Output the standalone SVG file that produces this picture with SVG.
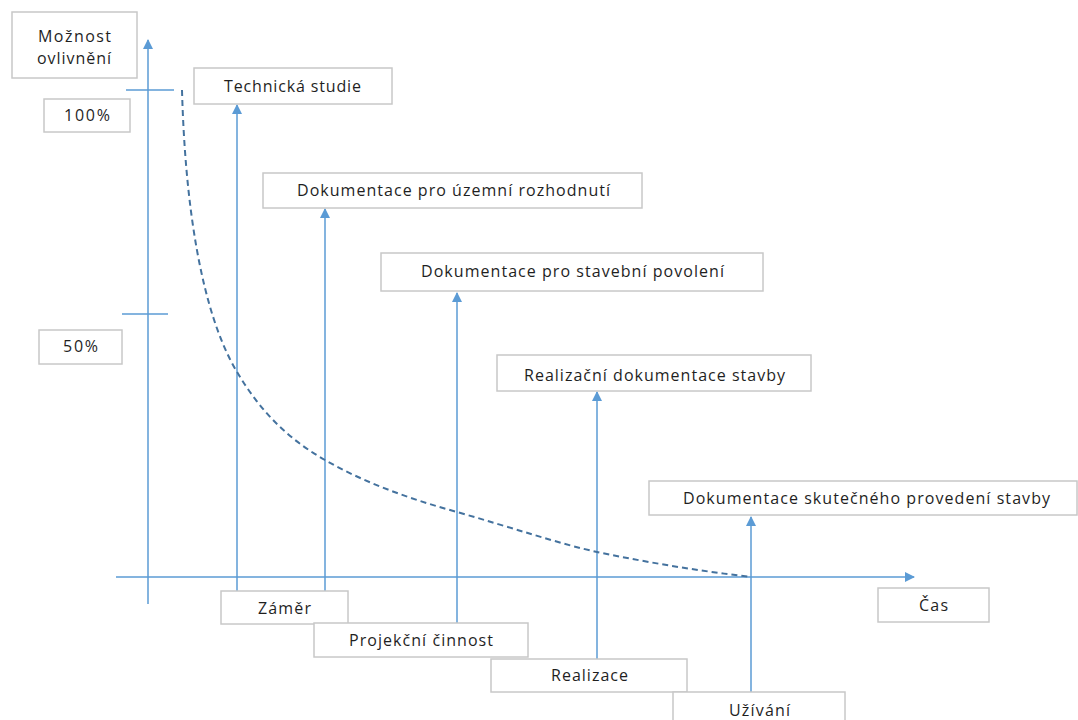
<svg xmlns="http://www.w3.org/2000/svg" width="1078" height="720" viewBox="0 0 1078 720">
<defs>
<marker id="arr" viewBox="0 0 10 10" refX="9" refY="5" markerWidth="10" markerHeight="10" markerUnits="userSpaceOnUse" orient="auto">
<path d="M0,0 L10,5 L0,10 Z" fill="#5b9bd5"/>
</marker>
<style>
.box{fill:#fff;stroke:#c8c8c8;stroke-width:1.5}
.t{font-family:"Open Sans","Liberation Sans",sans-serif;font-size:16px;fill:#1f1f1f;text-anchor:middle}
.ax{stroke:#5b9bd5;stroke-width:1.5;fill:none}
.cv{stroke:#44729e;stroke-width:2;fill:none;stroke-dasharray:6 4}
</style>
</defs>
<rect width="1078" height="720" fill="#fff"/>
<g id="connectors">
<line class="ax" x1="148" y1="604" x2="148" y2="40" marker-end="url(#arr)"/>
<line class="ax" x1="116" y1="577" x2="914" y2="577" marker-end="url(#arr)"/>
<line class="ax" x1="126" y1="90" x2="174" y2="90"/>
<line class="ax" x1="122" y1="314" x2="168" y2="314"/>
<line class="ax" x1="237" y1="591" x2="237" y2="105" marker-end="url(#arr)"/>
<line class="ax" x1="325" y1="591" x2="325" y2="209" marker-end="url(#arr)"/>
<line class="ax" x1="457" y1="623" x2="457" y2="293" marker-end="url(#arr)"/>
<line class="ax" x1="597" y1="659" x2="597" y2="392" marker-end="url(#arr)"/>
<line class="ax" x1="751" y1="692" x2="751" y2="517" marker-end="url(#arr)"/>
<path class="cv" d="M182,90 C185,200 200,310 237,372 C262,414 290,440 325,460 C365,483 410,499 457,512 C510,527 560,544 597,552 C650,563 700,571 751,577"/>
</g>
<g id="n-moznost"><rect class="box" x="12" y="12" width="125" height="66"/><text class="t" x="74.5" y="42" textLength="73">Možnost</text><text class="t" x="74" y="64" textLength="74">ovlivnění</text></g>
<g id="n-100"><rect class="box" x="44" y="99" width="86" height="33"/><text class="t" x="87" y="121" textLength="46">100%</text></g>
<g id="n-50"><rect class="box" x="39" y="330" width="83" height="34"/><text class="t" x="80.5" y="352" textLength="35">50%</text></g>
<g id="n-ts"><rect class="box" x="194" y="68" width="198" height="36"/><text class="t" x="292.5" y="92" textLength="137">Technická studie</text></g>
<g id="n-dur"><rect class="box" x="263" y="173" width="379" height="35"/><text class="t" x="453.5" y="196" textLength="313">Dokumentace pro územní rozhodnutí</text></g>
<g id="n-dsp"><rect class="box" x="381" y="253" width="382" height="38"/><text class="t" x="572.5" y="277" textLength="303">Dokumentace pro stavební povolení</text></g>
<g id="n-rds"><rect class="box" x="497" y="355" width="314" height="36"/><text class="t" x="654.5" y="381" textLength="261">Realizační dokumentace stavby</text></g>
<g id="n-dsps"><rect class="box" x="649" y="481" width="428" height="34"/><text class="t" x="866.5" y="504" textLength="367">Dokumentace skutečného provedení stavby</text></g>
<g id="n-cas"><rect class="box" x="878" y="588" width="111" height="34"/><text class="t" x="933.5" y="611" textLength="29">Čas</text></g>
<g id="n-zamer"><rect class="box" x="221" y="591" width="127" height="33"/><text class="t" x="284.5" y="614" textLength="53">Záměr</text></g>
<g id="n-projekcni"><rect class="box" x="314" y="623" width="214" height="34"/><text class="t" x="421" y="646" textLength="144">Projekční činnost</text></g>
<g id="n-realizace"><rect class="box" x="491" y="659" width="196" height="33"/><text class="t" x="589.5" y="681" textLength="77">Realizace</text></g>
<g id="n-uzivani"><rect class="box" x="673" y="692" width="172" height="40"/><text class="t" x="759.5" y="716" textLength="61">Užívání</text></g>
</svg>
